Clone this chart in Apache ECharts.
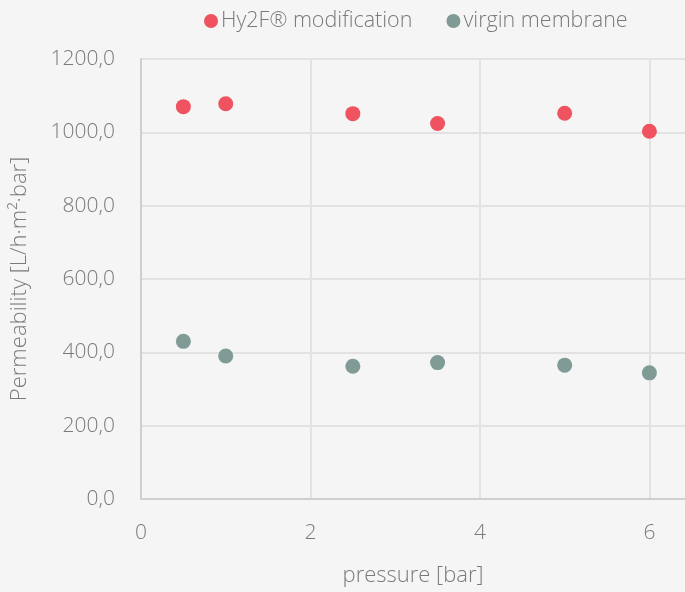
<!DOCTYPE html>
<html>
<head>
<meta charset="utf-8">
<script src="https://cdn.jsdelivr.net/npm/echarts@6/dist/echarts.min.js"></script>
<style>
html,body{margin:0;padding:0;background:#f4f5f4;}
#c{width:685px;height:592px;}
</style>
</head>
<body>
<div id="c"></div>
<script>
const pressure = [0.5, 1, 2.5, 3.5, 5, 6];
const hy2f = [1070, 1078, 1051, 1024, 1052, 1003];
const virgin = [430, 390, 362, 372, 365, 344];
const seriesNames = ['Hy2F® modification', 'virgin membrane'];
const xTitle = 'pressure [bar]';
const yTitle = 'Permeability [L/h·m²·bar]';

const font = 'Open Sans';
const txt = '#7a7a7a';
const chart = echarts.init(document.getElementById('c'));
chart.setOption({
  backgroundColor: '#f4f5f4',
  animation: false,
  textStyle: { fontFamily: font },
  legend: {
    top: 5, left: 199, itemGap: 34,
    icon: 'circle', itemWidth: 14, itemHeight: 14,
    textStyle: { fontFamily: font, fontSize: 21.5, fontWeight: 300, color: txt, padding: [0,0,0,-2] },
    data: seriesNames
  },
  grid: { left: 141, right: 0, top: 59, bottom: 93, containLabel: false, outerBoundsMode: 'none' },
  xAxis: {
    type: 'value', min: 0, max: 6.42, interval: 2,
    name: xTitle, nameLocation: 'middle', nameGap: 66,
    nameTextStyle: { fontFamily: font, fontSize: 22, fontWeight: 300, color: txt },
    axisLine: { show: true, lineStyle: { color: '#cfcfcf', width: 2 } },
    axisTick: { show: false },
    axisLabel: { showMaxLabel: false, margin: 24, fontSize: 21, fontWeight: 300, color: txt, fontFamily: font },
    splitLine: { show: true, showMaxLine: false, lineStyle: { color: '#e2e2e2', width: 2 } }
  },
  yAxis: {
    type: 'value', min: 0, max: 1200, interval: 200,
    name: yTitle, nameLocation: 'middle', nameGap: 110,
    nameTextStyle: { fontFamily: font, fontSize: 22, fontWeight: 300, color: txt },
    axisLine: { show: true, lineStyle: { color: '#cfcfcf', width: 2 } },
    axisTick: { show: false },
    axisLabel: { margin: 26, fontSize: 21, fontWeight: 300, color: txt, fontFamily: font,
      formatter: v => v.toFixed(1).replace('.', ',') },
    splitLine: { show: true, lineStyle: { color: '#e2e2e2', width: 2 } }
  },
  series: [
    { name: seriesNames[0], type: 'scatter', symbolSize: 15, itemStyle: { color: '#ee535f', opacity: 1 },
      data: pressure.map((p, i) => [p, hy2f[i]]) },
    { name: seriesNames[1], type: 'scatter', symbolSize: 15, itemStyle: { color: '#809a96', opacity: 1 },
      data: pressure.map((p, i) => [p, virgin[i]]) }
  ]
});
</script>
</body>
</html>
